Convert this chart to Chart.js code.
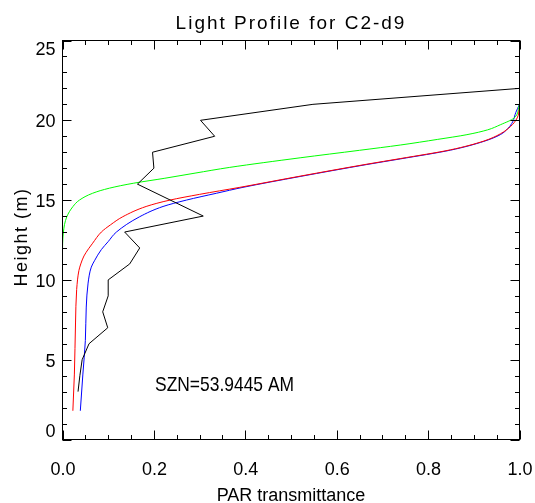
<!DOCTYPE html>
<html>
<head>
<meta charset="utf-8">
<title>Light Profile for C2-d9</title>
<script src="https://cdn.jsdelivr.net/npm/chart.js@4.4.0/dist/chart.umd.min.js"></script>
<style>
  html, body { margin: 0; padding: 0; background: #fff; }
  #profileChart { display: block; }
</style>
</head>
<body>
<canvas id="profileChart" width="535" height="503"></canvas>
<script>
// Measured light profile (black)
const measHeight = [3, 4, 5, 6, 7, 8, 9, 10, 11, 12, 13, 14, 16, 17, 18, 19, 20, 21, 22];
const measPar = [0.034, 0.038, 0.043, 0.058, 0.099, 0.088, 0.100, 0.100, 0.147, 0.169, 0.136, 0.308, 0.164, 0.200, 0.197, 0.333, 0.302, 0.548, 1.0];

// Modelled profiles
const redHeight = [1.8, 4.1, 7.3, 9.4, 10.6, 11.0, 11.5, 11.95, 12.3, 13.0, 13.45, 13.96, 14.6, 15.0, 15.36, 15.8, 16.5, 17.25, 17.6, 18.15, 18.7, 19.15, 19.6, 20.15, 20.75];
const redPar = [0.0227, 0.026, 0.0285, 0.031, 0.036, 0.040, 0.047, 0.057, 0.066, 0.085, 0.105, 0.132, 0.183, 0.235, 0.300, 0.388, 0.52, 0.666, 0.739, 0.849, 0.922, 0.958, 0.980, 0.995, 1.0];

const blueHeight = [1.8, 4.1, 6.2, 8.3, 9.8, 10.8, 11.2, 11.9, 12.4, 13.0, 13.96, 14.6, 15.0, 15.43, 15.8, 16.48, 17.23, 17.58, 18.13, 18.68, 19.1, 19.5, 19.9, 20.5, 21.0];
const bluePar = [0.039, 0.0446, 0.050, 0.052, 0.056, 0.063, 0.070, 0.085, 0.100, 0.118, 0.169, 0.220, 0.271, 0.337, 0.395, 0.52, 0.666, 0.739, 0.849, 0.922, 0.958, 0.975, 0.985, 0.992, 1.0];

const greenHeight = [1.8, 11.5, 13.0, 13.96, 14.6, 15.0, 15.43, 15.75, 16.06, 16.37, 16.69, 17.05, 17.65, 18.12, 18.45, 18.8, 19.1, 19.4, 19.72, 20.14, 21.0];
const greenPar = [0, 0, 0.002, 0.0095, 0.023, 0.037, 0.066, 0.103, 0.156, 0.224, 0.290, 0.366, 0.52, 0.65, 0.739, 0.82, 0.885, 0.93, 0.958, 0.988, 1.0];

// Axis ticks
const xTicks = [0, 0.2, 0.4, 0.6, 0.8, 1.0];
const yTicks = [0, 5, 10, 15, 20, 25];
const xMinorStep = 0.05;
const yMinorStep = 1;

const titleText = "Light Profile for C2-d9";
const xTitle = "PAR transmittance";
const yTitle = "Height (m)";
const noteText = "SZN=53.9445 AM";

function toPoints(heights, par) {
  return heights.map((h, i) => ({ x: par[i], y: h }));
}

// Box frame with inward ticks on all four sides, labels and titles
const boxAxes = {
  id: "boxAxes",
  afterDraw(chart) {
    const { ctx, chartArea: a, scales } = chart;
    const xs = scales.x, ys = scales.y;
    ctx.save();
    ctx.strokeStyle = "#000";
    ctx.lineWidth = 1;
    ctx.strokeRect(a.left, a.top, a.right - a.left, a.bottom - a.top);

    ctx.beginPath();
    const nx = Math.round((xs.max - xs.min) / xMinorStep);
    for (let i = 0; i <= nx; i++) {
      const v = xs.min + i * xMinorStep;
      const px = Math.round(xs.getPixelForValue(v)) + 0.5;
      const len = i % 4 === 0 ? 9 : 4.5;
      ctx.moveTo(px, a.bottom); ctx.lineTo(px, a.bottom - len);
      ctx.moveTo(px, a.top); ctx.lineTo(px, a.top + len);
    }
    const ny = Math.round((ys.max - ys.min) / yMinorStep);
    for (let i = 0; i <= ny; i++) {
      const v = ys.min + i * yMinorStep;
      const py = Math.round(ys.getPixelForValue(v)) + 0.5;
      const len = i % 5 === 0 ? 9 : 4.5;
      ctx.moveTo(a.left, py); ctx.lineTo(a.left + len, py);
      ctx.moveTo(a.right, py); ctx.lineTo(a.right - len, py);
    }
    ctx.stroke();

    ctx.fillStyle = "#000";
    ctx.font = '18px "Liberation Sans"';
    ctx.letterSpacing = "0px";
    ctx.textAlign = "center";
    ctx.textBaseline = "alphabetic";
    xTicks.forEach(v => {
      ctx.fillText(v.toFixed(1), xs.getPixelForValue(v) + 0.5, a.bottom + 35);
    });

    ctx.textAlign = "right";
    yTicks.forEach(v => {
      let py = ys.getPixelForValue(v) + 7;
      if (v === ys.max) py += 7;     // keep end labels inside the box
      if (v === ys.min) py -= 10;
      ctx.fillText(String(v), a.left - 7, py);
    });

    ctx.font = '19px "Liberation Sans"';
    ctx.letterSpacing = "2px";
    ctx.textAlign = "center";
    const cx = (a.left + a.right) / 2;
    ctx.fillText(titleText, cx, 29);

    ctx.font = '18px "Liberation Sans"';
    ctx.letterSpacing = "0px";
    ctx.fillText(xTitle, cx, 501);

    ctx.save();
    ctx.translate(27, (a.top + a.bottom) / 2 - 3);
    ctx.rotate(-Math.PI / 2);
    ctx.letterSpacing = "1.5px";
    ctx.fillText(yTitle, 0, 0);
    ctx.restore();

    // solar zenith note, drawn a bit condensed
    ctx.save();
    ctx.font = '21px "Liberation Sans"';
    ctx.letterSpacing = "0px";
    ctx.textAlign = "left";
    ctx.translate(155, 391);
    ctx.scale(0.83, 1);
    ctx.fillText(noteText, 0, 0);
    ctx.restore();
    ctx.restore();
  }
};

const line = (label, pts, color, smooth) => ({
  label,
  data: pts,
  borderColor: color,
  borderWidth: 1,
  pointRadius: 0,
  fill: false,
  tension: 0,
  cubicInterpolationMode: smooth ? "monotone" : "default"
});

new Chart(document.getElementById("profileChart"), {
  type: "line",
  data: {
    datasets: [
      line("Measured", toPoints(measHeight, measPar), "#000000", false),
      line("Red", toPoints(redHeight, redPar), "#ff0000", true),
      line("Green", toPoints(greenHeight, greenPar), "#00ff00", true),
      line("Blue", toPoints(blueHeight, bluePar), "#0000ff", true)
    ]
  },
  options: {
    indexAxis: "y",
    responsive: false,
    animation: false,
    devicePixelRatio: 1,
    layout: { padding: { left: 62.5, right: 15.5, top: 40.5, bottom: 63.5 } },
    plugins: { legend: { display: false }, tooltip: { enabled: false }, title: { display: false } },
    scales: {
      x: { type: "linear", min: 0, max: 1, display: false },
      y: { type: "linear", min: 0, max: 25, display: false }
    }
  },
  plugins: [boxAxes]
});
</script>
</body>
</html>
